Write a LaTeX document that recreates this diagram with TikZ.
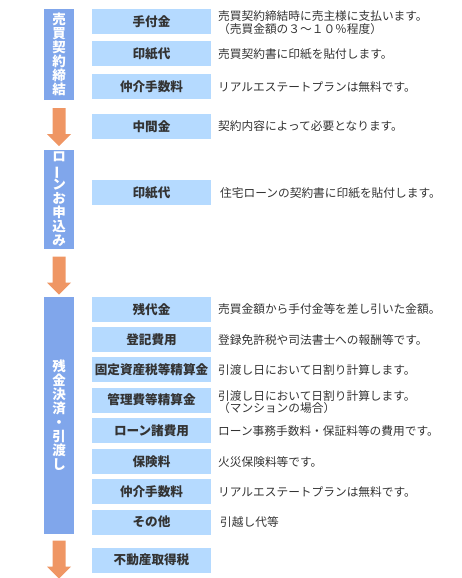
\documentclass[tikz,border=0pt]{standalone}
\usepackage{fontspec}
\setmainfont{Noto Sans CJK JP}
\definecolor{barblue}{RGB}{128,166,235}
\definecolor{boxblue}{RGB}{181,218,255}
\definecolor{arroworange}{RGB}{239,150,100}
\definecolor{txt}{RGB}{51,51,51}
\tikzset{
  phase/.style={fill=barblue, text=white, minimum width=30pt, inner sep=0pt, align=center,
    font=\fontsize{13.5}{14}\selectfont\bfseries},
  item/.style={fill=boxblue, text=txt, minimum width=119pt, minimum height=25pt, inner sep=0pt,
    font=\fontsize{12.6}{14}\selectfont\bfseries},
  desc/.style={anchor=west, text=txt, inner sep=0pt, align=left,
    font=\fontsize{11.7}{12.6}\selectfont},
  flowarrow/.pic={\fill[arroworange] (-6.5,0) -- (6.5,0) -- (6.5,26) -- (12,26) -- (0,38) -- (-12,26) -- (-6.5,26) -- cycle;}
}
\newcommand{\vbar}{\rotatebox[origin=c]{90}{ー}}
\begin{document}
\begin{tikzpicture}[x=1pt,y=-1pt]
\useasboundingbox (0,0) rectangle (462,578);
% phases
\node[phase, minimum height=90pt] (p1) at (59,54.5) {売\\買\\契\\約\\締\\結};
\node[phase, minimum height=99pt] (p2) at (59,199.5) {ロ\\\vbar\\ン\\お\\申\\込\\み};
\node[phase, minimum height=237pt] (p3) at (59,415.5) {残\\金\\決\\済\\・\\引\\渡\\し};
% arrows
\pic at (59,108) {flowarrow};
\pic at (59,256.5) {flowarrow};
\pic at (59,540.5) {flowarrow};
% items
\node[item] (i1) at (151.5,21.5) {手付金};
\node[item] (i2) at (151.5,53.5) {印紙代};
\node[item] (i3) at (151.5,86.5) {仲介手数料};
\node[item] (i4) at (151.5,126.5) {中間金};
\node[item] (i5) at (151.5,192.5) {印紙代};
\node[item] (i6) at (151.5,309.5) {残代金};
\node[item] (i7) at (151.5,339.5) {登記費用};
\node[item] (i8) at (151.5,369.5) {固定資産税等精算金};
\node[item] (i9) at (151.5,400) {管理費等精算金};
\node[item] (i10) at (151.5,430.5) {ローン諸費用};
\node[item] (i11) at (151.5,461.5) {保険料};
\node[item] (i12) at (151.5,491.5) {仲介手数料};
\node[item] (i13) at (151.5,522) {その他};
\node[item] (i14) at (151.5,560) {不動産取得税};
% descriptions
\node[desc] (d1) at (218,22.5) {売買契約締結時に売主様に支払います。\\（売買金額の３～１０％程度）};
\node[desc] (d2) at (218,54.5) {売買契約書に印紙を貼付します。};
\node[desc] (d3) at (218,87) {リアルエステートプランは無料です。};
\node[desc] (d4) at (218,126) {契約内容によって必要となります。};
\node[desc] (d5) at (220,193) {住宅ローンの契約書に印紙を貼付します。};
\node[desc] (d6) at (218,309.5) {売買金額から手付金等を差し引いた金額。};
\node[desc] (d7) at (218,340) {登録免許税や司法書士への報酬等です。};
\node[desc] (d8) at (218,370) {引渡し日において日割り計算します。};
\node[desc] (d9) at (218,402) {引渡し日において日割り計算します。\\（マンションの場合）};
\node[desc] (d10) at (218,431) {ローン事務手数料・保証料等の費用です。};
\node[desc] (d11) at (218,462) {火災保険料等です。};
\node[desc] (d12) at (218,492) {リアルエステートプランは無料です。};
\node[desc] (d13) at (220,522) {引越し代等};
\end{tikzpicture}
\end{document}
